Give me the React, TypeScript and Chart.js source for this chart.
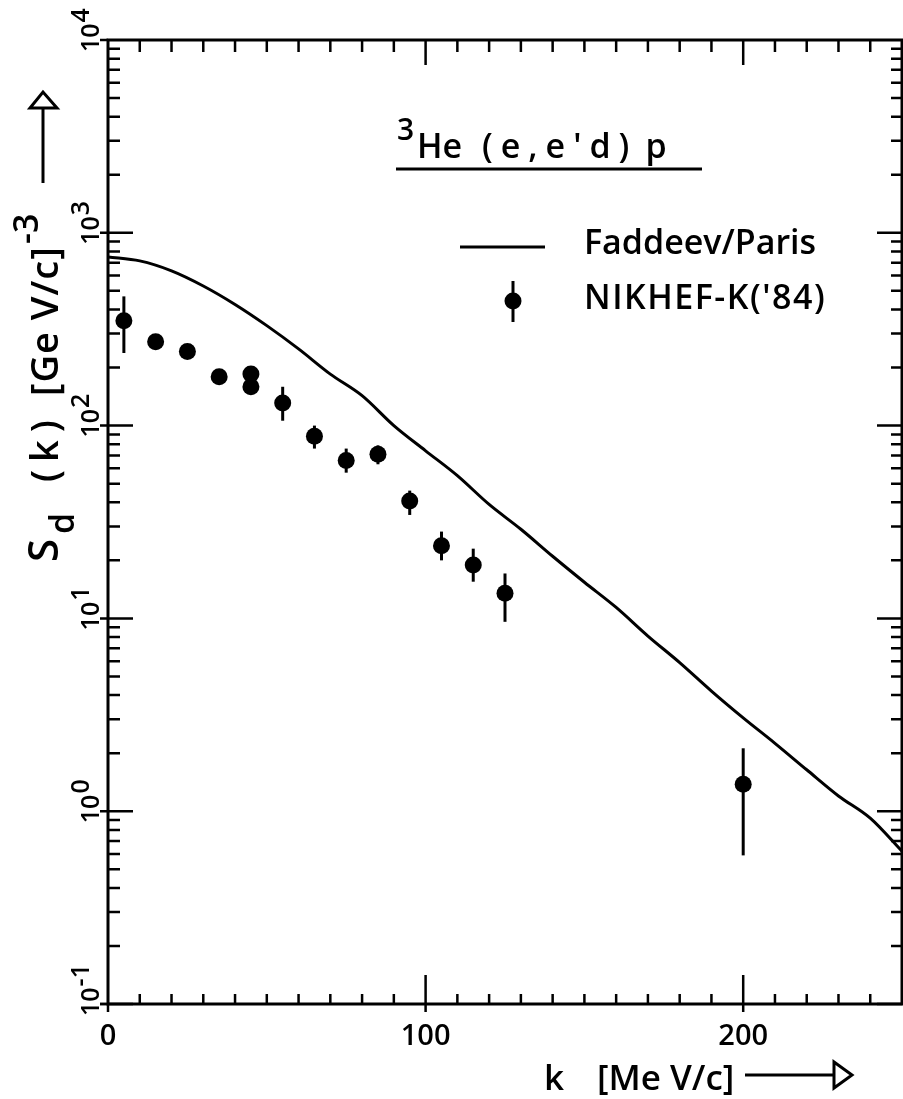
import React, { useEffect, useRef } from "react";
import { Chart, registerables } from "chart.js";

Chart.register(...registerables);

// Faddeev/Paris theory curve (k in MeV/c, S_d in (GeV/c)^-3)
const curveK = [0, 10, 20, 30, 40, 50, 60, 70, 80, 90, 100, 110, 120, 130, 140, 150, 160, 170, 180, 190, 200, 210, 220, 230, 240, 250];
const curveS = [750, 715, 635, 530, 425, 330, 250, 185, 143, 100, 74, 55, 39, 29, 21, 15.4, 11.4, 8.1, 5.9, 4.2, 3.05, 2.25, 1.64, 1.2, 0.92, 0.62];

// NIKHEF-K ('84) data
const dataK = [5, 15, 25, 35, 45, 45, 55, 65, 75, 85, 95, 105, 115, 125, 200];
const dataS = [350, 272, 242, 179, 185, 159, 131, 88, 66, 71, 40.6, 23.8, 18.9, 13.5, 1.38];
const errLow = [238, 250, 230, 170, 176, 150, 106, 76, 57, 63, 34.4, 20, 15.5, 9.6, 0.59];
const errHigh = [468, 290, 254, 188, 194, 168, 159, 100, 76, 79, 46, 28.2, 23, 17.1, 2.12];

// Axis ticks
const xTickLabels = [0, 100, 200];
const yTickExponents = [-1, 0, 1, 2, 3, 4];
const xMin = 0;
const xMax = 250;
const xMinorStep = 10;
const yMin = 0.1;
const yMax = 10000;

const FONT = '"Open Sans", "DejaVu Sans", sans-serif';
const W = "600";

function spaced(ctx: CanvasRenderingContext2D, text: string, x: number, y: number, gap: number) {
  let cx = x;
  for (const ch of text) {
    ctx.fillText(ch, cx, y);
    cx += ctx.measureText(ch).width + gap;
  }
  return cx;
}

const decorPlugin = {
  id: "decor",
  afterDatasetsDraw(chart: any) {
    const ctx: CanvasRenderingContext2D = chart.ctx;
    const xs = chart.scales.x;
    const ys = chart.scales.y;
    const { left, right, top, bottom } = chart.chartArea;
    ctx.save();
    ctx.strokeStyle = "#000";
    ctx.fillStyle = "#000";
    ctx.lineCap = "butt";

    // error bars
    ctx.lineWidth = 3;
    dataK.forEach((k, i) => {
      const px = xs.getPixelForValue(k);
      ctx.beginPath();
      ctx.moveTo(px, ys.getPixelForValue(errHigh[i]));
      ctx.lineTo(px, ys.getPixelForValue(errLow[i]));
      ctx.stroke();
    });

    // frame
    ctx.lineWidth = 3;
    ctx.strokeRect(left, top, right - left, bottom - top);

    // x ticks (bottom & top)
    ctx.lineWidth = 2.5;
    for (let v = xMin + xMinorStep; v < xMax; v += xMinorStep) {
      const px = xs.getPixelForValue(v);
      const major = xTickLabels.includes(v);
      ctx.beginPath();
      if (major) {
        ctx.moveTo(px, bottom + 8);
        ctx.lineTo(px, bottom - 29);
        ctx.moveTo(px, top);
        ctx.lineTo(px, top + 25);
      } else {
        ctx.moveTo(px, bottom);
        ctx.lineTo(px, bottom - 10);
        ctx.moveTo(px, top);
        ctx.lineTo(px, top + 12);
      }
      ctx.stroke();
    }
    ctx.beginPath();
    ctx.moveTo(left, bottom);
    ctx.lineTo(left, bottom + 8);
    ctx.moveTo(left - 8, bottom);
    ctx.lineTo(left, bottom);
    ctx.stroke();

    // y ticks (left & right)
    for (let e = yTickExponents[0]; e < yTickExponents[yTickExponents.length - 1]; e++) {
      for (let m = 1; m <= 9; m++) {
        const v = m * Math.pow(10, e);
        const py = ys.getPixelForValue(v);
        ctx.beginPath();
        if (m === 1) {
          ctx.moveTo(left - 8, py);
          ctx.lineTo(left + 25, py);
          ctx.moveTo(right, py);
          ctx.lineTo(right - 25, py);
        } else {
          ctx.moveTo(left, py);
          ctx.lineTo(left + 12, py);
          ctx.moveTo(right, py);
          ctx.lineTo(right - 11, py);
        }
        ctx.stroke();
      }
    }
    ctx.beginPath();
    ctx.moveTo(left - 8, top);
    ctx.lineTo(left, top);
    ctx.stroke();

    // x tick labels
    ctx.font = `${W} 29px ${FONT}`;
    ctx.textAlign = "center";
    ctx.textBaseline = "alphabetic";
    xTickLabels.forEach((v) => {
      ctx.fillText(String(v), xs.getPixelForValue(v), bottom + 41);
    });

    // y tick labels: rotated "10" with superscript exponent
    yTickExponents.forEach((e) => {
      const py = ys.getPixelForValue(Math.pow(10, e));
      ctx.save();
      ctx.translate(99, py);
      ctx.rotate(-Math.PI / 2);
      ctx.textAlign = "left";
      ctx.font = `${W} 25px ${FONT}`;
      ctx.fillText("10", -12, 0);
      const w = ctx.measureText("10").width;
      ctx.font = `${W} 25px ${FONT}`;
      ctx.fillText(String(e), -12 + w + 1, -10);
      ctx.restore();
    });

    // y axis title (rotated)
    ctx.save();
    ctx.translate(58, 562);
    ctx.rotate(-Math.PI / 2);
    ctx.textAlign = "left";
    ctx.font = `${W} 42px ${FONT}`;
    ctx.fillText("S", 0, 0);
    ctx.font = `${W} 34px ${FONT}`;
    ctx.fillText("d", 28, 16);
    ctx.font = `${W} 38px ${FONT}`;
    spaced(ctx, "(k)", 80, 0, 8);
    spaced(ctx, "[Ge V/c]", 166, 0, 1);
    ctx.font = `${W} 34px ${FONT}`;
    ctx.fillText("-3", 318, -20);
    ctx.restore();
    // y arrow
    ctx.lineWidth = 3;
    ctx.beginPath();
    ctx.moveTo(43, 183);
    ctx.lineTo(43, 108);
    ctx.stroke();
    ctx.beginPath();
    ctx.moveTo(30, 108);
    ctx.lineTo(57, 108);
    ctx.lineTo(43, 92);
    ctx.closePath();
    ctx.stroke();

    // x axis title
    ctx.textAlign = "left";
    ctx.font = `${W} 35px ${FONT}`;
    ctx.fillText("k", 544, 1090);
    spaced(ctx, "[Me V/c]", 597, 1090, 0);
    ctx.lineWidth = 3;
    ctx.beginPath();
    ctx.moveTo(745, 1075);
    ctx.lineTo(834, 1075);
    ctx.stroke();
    ctx.beginPath();
    ctx.moveTo(834, 1062);
    ctx.lineTo(834, 1088);
    ctx.lineTo(852, 1075);
    ctx.closePath();
    ctx.stroke();

    // title
    ctx.font = `${W} 30px ${FONT}`;
    ctx.fillText("3", 397, 140);
    ctx.font = `${W} 34px ${FONT}`;
    ctx.fillText("He", 417, 158);
    const endX = spaced(ctx, "(e,e'd)", 482, 158, 8);
    ctx.fillText("p", endX + 8, 158);
    ctx.lineWidth = 3;
    ctx.beginPath();
    ctx.moveTo(396, 169);
    ctx.lineTo(702, 169);
    ctx.stroke();

    // legend
    ctx.lineWidth = 3;
    ctx.beginPath();
    ctx.moveTo(460, 247);
    ctx.lineTo(545, 247);
    ctx.stroke();
    ctx.beginPath();
    ctx.moveTo(513, 281);
    ctx.lineTo(513, 322);
    ctx.stroke();
    ctx.beginPath();
    ctx.arc(513, 301, 8.5, 0, Math.PI * 2);
    ctx.fill();
    ctx.font = `${W} 34px ${FONT}`;
    ctx.textBaseline = "middle";
    ctx.fillText("Faddeev/Paris", 584, 244);
    spaced(ctx, "NIKHEF-K('84)", 584, 299, 1.5);

    ctx.restore();
  },
};

export default function App() {
  const ref = useRef<HTMLCanvasElement | null>(null);
  useEffect(() => {
    if (!ref.current) return;
    const chart = new Chart(ref.current, {
      type: "scatter",
      data: {
        datasets: [
          {
            label: "Faddeev/Paris",
            data: curveK.map((k, i) => ({ x: k, y: curveS[i] })),
            showLine: true,
            borderColor: "#000",
            borderWidth: 3,
            pointRadius: 0,
            cubicInterpolationMode: "monotone",
          },
          {
            label: "NIKHEF-K ('84)",
            data: dataK.map((k, i) => ({ x: k, y: dataS[i] })),
            showLine: false,
            backgroundColor: "#000",
            borderColor: "#000",
            pointRadius: 8.5,
            pointBorderWidth: 0,
          },
        ],
      },
      options: {
        animation: false,
        responsive: false,
        devicePixelRatio: 1,
        layout: { autoPadding: false, padding: { left: 108, right: 1, top: 40, bottom: 95 } },
        plugins: { legend: { display: false }, tooltip: { enabled: false } },
        scales: {
          x: { type: "linear", min: xMin, max: xMax, display: false },
          y: { type: "logarithmic", min: yMin, max: yMax, display: false },
        },
      },
      plugins: [decorPlugin],
    });
    return () => chart.destroy();
  }, []);
  return (
    <div style={{ position: "absolute", left: 0, top: 0, width: 903, height: 1099, background: "#fff" }}>
      <canvas ref={ref} width={903} height={1099} />
    </div>
  );
}
